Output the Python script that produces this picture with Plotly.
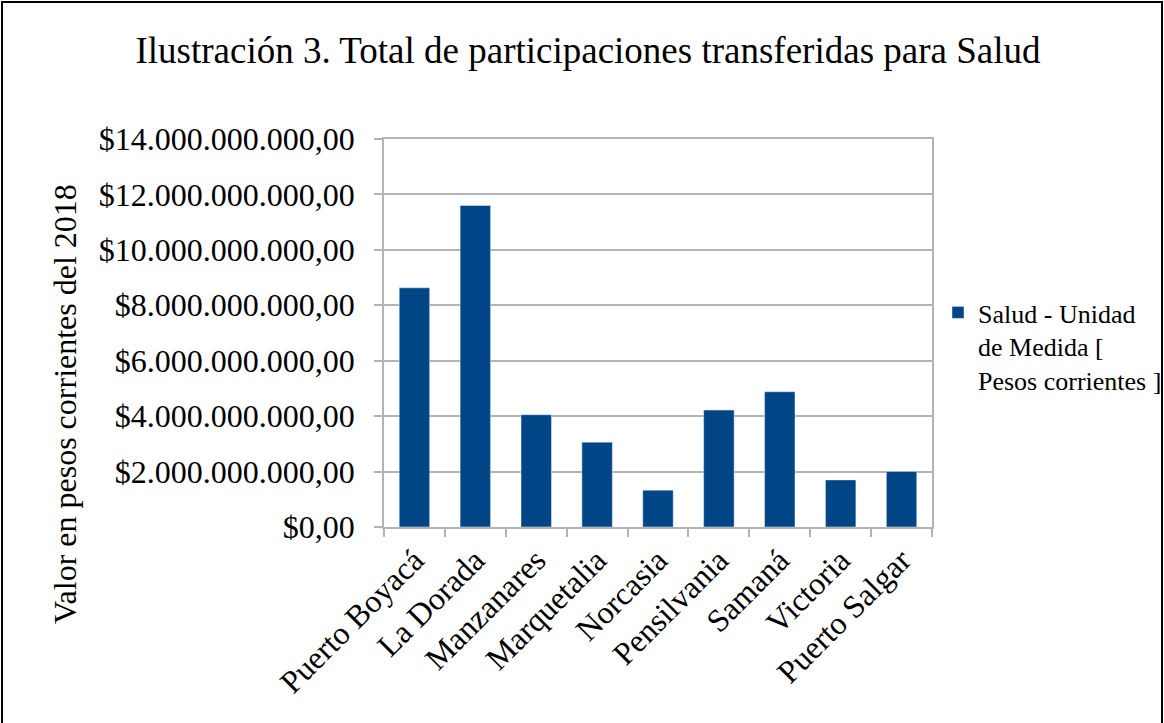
import plotly.graph_objects as go

categories = ["Puerto Boyacá", "La Dorada", "Manzanares", "Marquetalia", "Norcasia",
              "Pensilvania", "Samaná", "Victoria", "Puerto Salgar"]
values = [8.63e9, 11.60e9, 4.05e9, 3.06e9, 1.33e9, 4.22e9, 4.88e9, 1.70e9, 2.00e9]
series_name = "Salud - Unidad<br>de Medida [<br>Pesos corrientes ]"
y_tickvals = [0, 2e9, 4e9, 6e9, 8e9, 10e9, 12e9, 14e9]
y_ticktext = ["$0,00", "$2.000.000.000,00", "$4.000.000.000,00", "$6.000.000.000,00",
              "$8.000.000.000,00", "$10.000.000.000,00", "$12.000.000.000,00",
              "$14.000.000.000,00"]
y_title = "Valor en pesos corrientes del 2018"

W, H = 1164, 723
L, R, T, B = 384, 232, 139, 196
pw, ph = W - L - R, H - T - B
font = "Liberation Serif, Times New Roman, serif"
grey = "#b3b3b3"


def px_x(x):
    return (x - L) / pw


def px_y(y):
    return (H - B - y) / ph


fig = go.Figure(go.Bar(x=categories, y=values, name=series_name,
                       marker=dict(color="#004586"), width=0.5, showlegend=True))

fig.update_layout(
    width=W, height=H,
    margin=dict(l=L, r=R, t=T, b=B, autoexpand=False),
    paper_bgcolor="white", plot_bgcolor="white",
    font=dict(family=font, color="black"),
    title=dict(text="Ilustración 3. Total de participaciones transferidas para Salud",
               x=588 / W, xanchor="center", y=1 - 50 / H, yanchor="middle",
               font=dict(size=37, family=font, color="black")),
    legend=dict(x=px_x(938), y=px_y(289), xanchor="left", yanchor="top",
                font=dict(size=26, family=font, color="black"), valign="top",
                bgcolor="rgba(0,0,0,0)", itemwidth=30, tracegroupgap=0),
    bargap=0.5,
)
fig.update_xaxes(type="category", showline=True, linecolor=grey, linewidth=1.5, mirror=True,
                 ticks="outside", tickson="boundaries", ticklen=8, tickcolor=grey, tickwidth=1.5,
                 tickangle=-45, tickfont=dict(size=32, family=font, color="black"),
                 showgrid=False)
fig.update_yaxes(range=[0, 14e9], tickvals=y_tickvals, ticktext=y_ticktext,
                 showline=True, linecolor=grey, linewidth=1.5, mirror=True,
                 ticks="outside", ticklen=8, tickcolor=grey, tickwidth=1.5,
                 ticklabelstandoff=13,
                 showgrid=True, gridcolor=grey, gridwidth=1.5, zeroline=False,
                 tickfont=dict(size=32, family=font, color="black"))

fig.add_annotation(text=y_title, textangle=-90, xref="paper", yref="paper",
                   x=px_x(65), y=px_y(404), xanchor="center", yanchor="middle",
                   showarrow=False, font=dict(size=32, family=font, color="black"))

# outer frame around the whole picture
fig.add_shape(type="rect", xref="paper", yref="paper",
              x0=px_x(2), x1=px_x(W - 2), y0=px_y(H + 5), y1=px_y(2),
              line=dict(color="black", width=2), layer="below")

fig.write_html("out.html", config={"displayModeBar": False},
               post_script="document.body.style.margin='0';document.body.style.overflow='hidden';")
